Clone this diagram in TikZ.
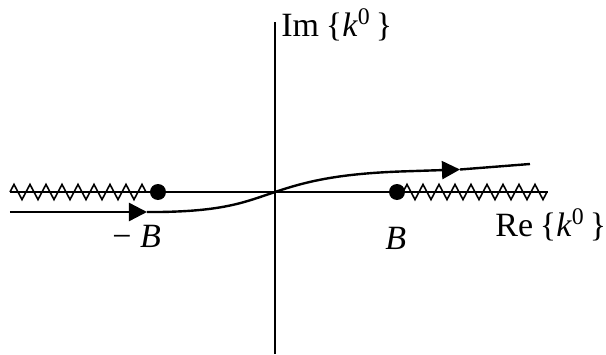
\documentclass[tikz,border=0pt]{standalone}
\usepackage{fontspec}
\setmainfont{Liberation Serif}
\usetikzlibrary{arrows.meta,decorations.pathmorphing}
\tikzset{
  every node/.style={font=\fontsize{17}{20}\selectfont, inner sep=0pt},
  axis/.style={draw=black, line width=1.3pt},
  cut/.style={draw=black, line width=0.8pt, decorate,
    decoration={zigzag, segment length=8pt, amplitude=3.8pt}},
  pole/.style={fill=black},
  contour/.style={draw=black, line width=1.2pt},
  flow/.style={-{Triangle[length=9pt,width=9pt]}},
}
\begin{document}
\begin{tikzpicture}[x=0.5pt,y=0.5pt]
  \useasboundingbox[fill=white] (-275,-162) rectangle (331,192);
  % Axes
  \draw[axis] (0,-162) -- (0,170);
  \draw[axis] (-265,0) -- (273,0);
  % Branch cuts
  \draw[cut] (-265,0) -- (-124,0);
  \draw[cut] (128,0) -- (273,0);
  % Poles
  \coordinate (mB) at (-117,0);
  \coordinate (pB) at (122,0);
  \fill[pole] (mB) circle (8);
  \fill[pole] (pB) circle (8);
  % Contour
  \coordinate (cin) at (-265,-20);
  \coordinate (ca) at (-128,-20);
  \coordinate (cb) at (185,22.5);
  \coordinate (cout) at (255,28);
  \draw[contour, flow] (cin) -- (ca);
  \draw[contour, flow] (ca) -- (-115,-20)
    .. controls (-50,-19) and (-30,-10) .. (0,0)
    .. controls (30,10) and (60,18) .. (125,20.5) -- (cb);
  \draw[contour] (cb) -- (cout);
  % Labels
  \node[anchor=base west] (im) at (6,155) {Im\hspace{0.2em}\{\textit{k}\textsuperscript{0}\hspace{0.15em}\}};
  \node[anchor=base west] (re) at (220,-45) {Re\hspace{0.2em}\{\textit{k}\textsuperscript{0}\hspace{0.15em}\}};
  \node[anchor=base west] (lmB) at (-163,-55) {−\hspace{0.25em}\textit{B}};
  \node[anchor=base west] (lpB) at (110,-57) {\textit{B}};
\end{tikzpicture}
\end{document}
